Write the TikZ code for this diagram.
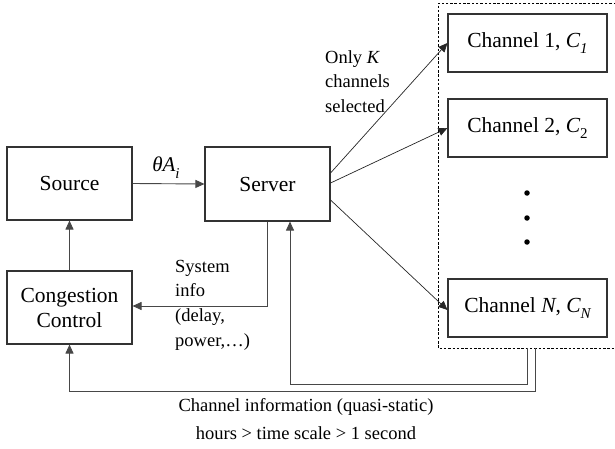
\documentclass[tikz,border=0pt]{standalone}
\usepackage{fontspec}
\setmainfont{Liberation Serif}
\usetikzlibrary{arrows.meta,calc}
\newcommand\mysub[1]{\raisebox{-0.32em}{\fontsize{15}{15}\selectfont #1}}
\tikzset{
  box/.style={draw=black!80, line width=1.1pt, rectangle, minimum width=125pt, minimum height=73pt, inner sep=0pt, font=\fontsize{21.5}{25}\selectfont},
  chbox/.style={draw=black!80, line width=1.1pt, rectangle, minimum width=159pt, minimum height=58pt, inner sep=0pt, font=\fontsize{21.5}{25}\selectfont},
  conn/.style={draw=black!72, line width=0.9pt, -{Triangle[length=9pt,width=8pt]}},
  diag/.style={draw=black!85, line width=0.7pt, -{Triangle[length=9pt,width=8pt]}},
  lbl/.style={font=\fontsize{18.5}{24.6}\selectfont, inner sep=0pt, align=left},
  dotc/.style={fill=black, circle, inner sep=0pt, minimum size=5.5pt}
}
\begin{document}
\begin{tikzpicture}[x=1pt,y=-1pt]
\useasboundingbox (0,0) rectangle (615,449);
% boxes
\node[box] (src) at (69.5,183.5) {Source};
\node[box, minimum height=74pt] (srv) at (267.5,184) {Server};
\node[box, align=center] (cc) at (69.5,307.5) {Congestion\\Control};
\node[chbox] (c1) at (527.5,43) {Channel 1, {\itshape C}\mysub{\itshape 1}};
\node[chbox] (c2) at (527.5,128) {Channel 2, {\itshape C}\mysub{2}};
\node[chbox] (cn) at (527.5,308) {Channel {\itshape N}, {\itshape C}\mysub{\itshape N}};
% dots
\node[dotc] (d1) at (527,193) {};
\node[dotc] (d2) at (527,218) {};
\node[dotc] (d3) at (527,242) {};
% dashed group
\coordinate (g1) at (616,3);
\coordinate (g2) at (438,3);
\coordinate (g3) at (438,348);
\coordinate (g4) at (616,348);
\draw[black, line width=0.8pt, dash pattern=on 2.5pt off 1.8pt] (g1) -- (g2) -- (g3) -- (g4);
% feedback coordinates
\coordinate (fb1) at (527,348);
\coordinate (fb2) at (535,348);
% connectors
\draw[conn] (src.east) -- (srv.west);
\draw[conn] (cc.north) -- (src.south);
\draw[diag] ([yshift=11pt]srv.east) -- (c1.west);
\draw[diag] ([yshift=1pt]srv.east) -- (c2.west);
\draw[diag] ([yshift=-16pt]srv.east) -- ([yshift=-2pt]cn.west);
\draw[conn] (srv.south) |- ([yshift=1.5pt]cc.east);
\draw[conn] (fb1) -- ++(0,36) -| ([xshift=22.5pt]srv.south);
\draw[conn] (fb2) -- ++(0,43) -| (cc.south);
% labels
\node[lbl, font=\fontsize{21}{25}\selectfont] (theta) at (166,168) {{\itshape θA}\mysub{\itshape i}};
\node[lbl, anchor=west] (onlyk) at (325,81.5) {Only {\itshape K}\\channels\\selected};
\node[lbl, anchor=west] (sysinfo) at (175,305) {System\\info\\(delay,\\power,…)};
\node[lbl, align=center, font=\fontsize{18.5}{27.5}\selectfont] (chinfo) at (306,419) {Channel information (quasi-static)\\hours > time scale > 1 second};
\end{tikzpicture}
\end{document}
